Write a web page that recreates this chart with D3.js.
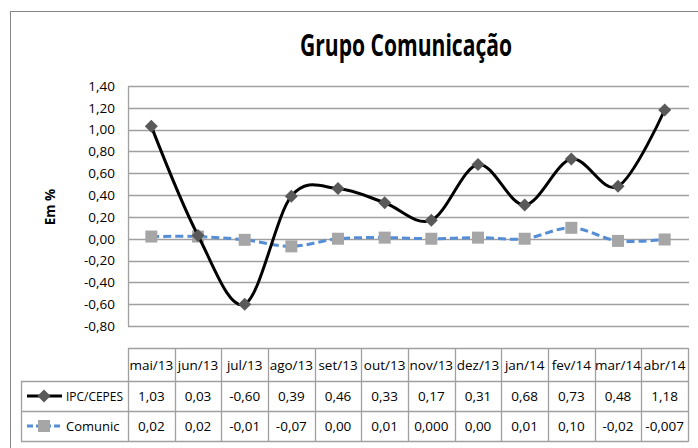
<!DOCTYPE html>
<html><head><meta charset="utf-8">
<script src="https://cdn.jsdelivr.net/npm/d3@7"></script>
<style>body{margin:0;background:#fff}svg{display:block}text{font-family:"Open Sans",sans-serif}</style>
</head><body>
<script>
const categories = ["mai/13","jun/13","jul/13","ago/13","set/13","out/13","nov/13","dez/13","jan/14","fev/14","mar/14","abr/14"];
// values as plotted in the chart
const ipcValues = [1.03, 0.03, -0.60, 0.39, 0.46, 0.33, 0.17, 0.68, 0.31, 0.73, 0.48, 1.18];
const comunicValues = [0.02, 0.02, -0.01, -0.07, 0.00, 0.01, 0.00, 0.01, 0.00, 0.10, -0.02, -0.007];
// values as printed in the data table
const ipcLabels = ["1,03","0,03","-0,60","0,39","0,46","0,33","0,17","0,31","0,68","0,73","0,48","1,18"];
const comunicLabels = ["0,02","0,02","-0,01","-0,07","0,00","0,01","0,000","0,00","0,01","0,10","-0,02","-0,007"];
const yTicks = [1.4,1.2,1.0,0.8,0.6,0.4,0.2,0,-0.2,-0.4,-0.6,-0.8];
const seriesNames = ["IPC/CEPES","Comunic"];

const W = 698, H = 448;
const svg = d3.select("body").append("svg").attr("width", W).attr("height", H);

// outer chart border
svg.append("rect").attr("x", 10.5).attr("y", 11.5).attr("width", 720).attr("height", 460)
  .attr("fill", "#fff").attr("stroke", "#868686").attr("stroke-width", 1);

// title
svg.append("text").attr("x", 406).attr("y", 56).attr("text-anchor", "middle")
  .attr("font-size", 30).attr("font-weight", "bold").attr("fill", "#000")
  .attr("textLength", 212).attr("lengthAdjust", "spacingAndGlyphs")
  .text("Grupo Comunicação");

const plotL = 128, plotR = 688;
const x = d3.scaleBand().domain(categories).range([plotL, plotR]);
const y = d3.scaleLinear().domain([-0.8, 1.4]).range([326, 86]);

// gridlines
svg.append("g").selectAll("line").data(yTicks).join("line")
  .attr("x1", plotL).attr("x2", plotR + 1)
  .attr("y1", d => Math.round(y(d)) + 0.5).attr("y2", d => Math.round(y(d)) + 0.5)
  .attr("stroke", "#a0a0a0").attr("stroke-width", 1.3);
// y axis
const yAxis = d3.axisLeft(y).tickValues(yTicks).tickSize(0).tickPadding(13)
  .tickFormat(d => d3.format(".2f")(d).replace(".", ",").replace("−", "-"));
const ga = svg.append("g").attr("transform", `translate(${plotL},0)`).call(yAxis);
ga.select(".domain").attr("stroke", "#a0a0a0").attr("stroke-width", 1.3);
ga.selectAll("text").attr("font-size", 13.5).attr("fill", "#000").attr("font-family", "Open Sans");

// y axis title
svg.append("text").attr("transform", "translate(55,207) rotate(-90)").attr("text-anchor", "middle")
  .attr("font-size", 13.5).attr("font-weight", "bold").attr("fill", "#000").text("Em %");

const cx = c => x(c) + x.bandwidth() / 2;
const curve = d3.curveCatmullRom.alpha(0);

// Comunic line (dashed blue)
const lineC = d3.line().x((d, i) => cx(categories[i])).y(d => y(d)).curve(curve);
svg.append("path").datum(comunicValues).attr("d", lineC).attr("fill", "none")
  .attr("stroke", "#558ed5").attr("stroke-width", 3).attr("stroke-dasharray", "8,4");
svg.append("g").selectAll("rect").data(comunicValues).join("rect")
  .attr("x", (d, i) => cx(categories[i]) - 6).attr("y", d => y(d) - 6)
  .attr("width", 12).attr("height", 12).attr("fill", "#a6a6a6");

// IPC line
svg.append("path").datum(ipcValues).attr("d", lineC).attr("fill", "none")
  .attr("stroke", "#000").attr("stroke-width", 3);
const diamond = "M0,-6.5L6.5,0L0,6.5L-6.5,0Z";
svg.append("g").selectAll("path").data(ipcValues).join("path")
  .attr("d", diamond).attr("transform", (d, i) => `translate(${cx(categories[i])},${y(d)})`)
  .attr("fill", "#595959");

// data table
const tTop = 348, r1 = 381, r2 = 411, tBot = 441, legL = 21;
const tg = svg.append("g");
const gridC = "#a0a0a0";
function ln(x1, y1, x2, y2) {
  tg.append("line").attr("x1", x1).attr("y1", y1).attr("x2", x2).attr("y2", y2)
    .attr("stroke", gridC).attr("stroke-width", 1.3);
}
ln(plotL, tTop + 0.5, plotR, tTop + 0.5);
ln(legL, r1 + 0.5, plotR, r1 + 0.5);
ln(legL, r2 + 0.5, plotR, r2 + 0.5);
ln(legL, tBot + 0.5, plotR, tBot + 0.5);
ln(legL + 0.5, r1, legL + 0.5, tBot);
categories.forEach(c => ln(Math.round(x(c)) + 0.5, tTop, Math.round(x(c)) + 0.5, tBot));
ln(plotR + 0.5, tTop, plotR + 0.5, tBot + 1);

tg.selectAll(".hdr").data(categories).join("text").attr("class", "hdr")
  .attr("x", d => cx(d)).attr("y", (tTop + r1) / 2 + 5).attr("text-anchor", "middle")
  .attr("font-size", 13.5).attr("fill", "#000").text(d => d);
tg.selectAll(".v1").data(ipcLabels).join("text").attr("class", "v1")
  .attr("x", (d, i) => cx(categories[i])).attr("y", (r1 + r2) / 2 + 5).attr("text-anchor", "middle")
  .attr("font-size", 13.5).attr("fill", "#000").text(d => d);
tg.selectAll(".v2").data(comunicLabels).join("text").attr("class", "v2")
  .attr("x", (d, i) => cx(categories[i])).attr("y", (r2 + tBot) / 2 + 5).attr("text-anchor", "middle")
  .attr("font-size", 13.5).attr("fill", "#000").text(d => d);

// legend keys
const ly1 = (r1 + r2) / 2, ly2 = (r2 + tBot) / 2;
tg.append("line").attr("x1", 27).attr("x2", 62).attr("y1", ly1).attr("y2", ly1).attr("stroke", "#000").attr("stroke-width", 3);
tg.append("path").attr("d", diamond).attr("transform", `translate(44,${ly1})`).attr("fill", "#595959");
tg.append("line").attr("x1", 27).attr("x2", 62).attr("y1", ly2).attr("y2", ly2).attr("stroke", "#558ed5").attr("stroke-width", 3).attr("stroke-dasharray", "6,3");
tg.append("rect").attr("x", 38).attr("y", ly2 - 6).attr("width", 12).attr("height", 12).attr("fill", "#a6a6a6");
tg.append("text").attr("x", 66).attr("y", ly1 + 5).attr("font-size", 13).attr("fill", "#000")
  .attr("textLength", 57).attr("lengthAdjust", "spacingAndGlyphs").text(seriesNames[0]);
tg.append("text").attr("x", 66).attr("y", ly2 + 5).attr("font-size", 13).attr("fill", "#000").text(seriesNames[1]);
</script>
</body></html>
